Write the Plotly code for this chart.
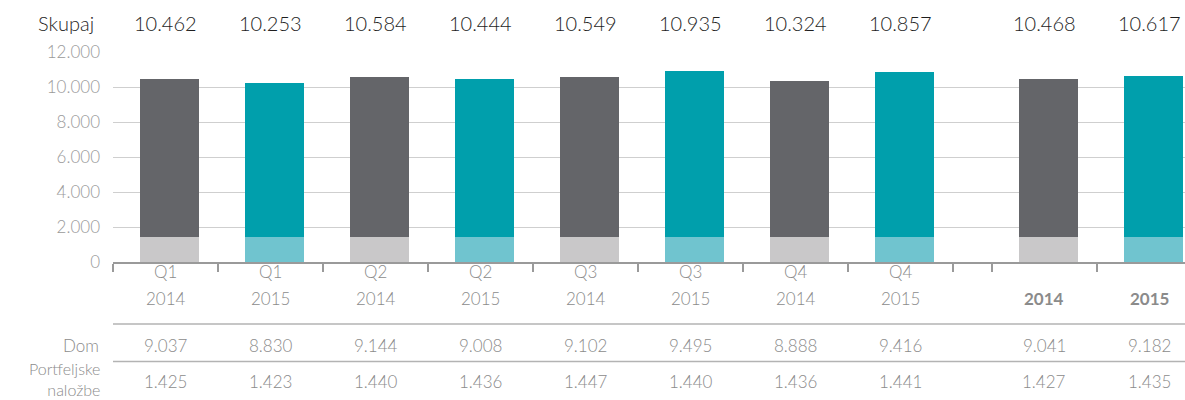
import plotly.graph_objects as go

# Quarterly and annual values (in thousands), Slovenian number formatting
quarters = ["Q1", "Q1", "Q2", "Q2", "Q3", "Q3", "Q4", "Q4", "", ""]
years = ["2014", "2015", "2014", "2015", "2014", "2015", "2014", "2015", "2014", "2015"]
dom = [9037, 8830, 9144, 9008, 9102, 9495, 8888, 9416, 9041, 9182]
portfeljske = [1425, 1423, 1440, 1436, 1447, 1440, 1436, 1441, 1427, 1435]
y_ticks = [0, 2000, 4000, 6000, 8000, 10000, 12000]

row_labels = ["Dom", "Portfeljske<br>naložbe"]
total_label = "Skupaj"

# layout constants (pixels)
W, H = 1185, 400
L, T, B = 113, 52, 138
plot_h = H - T - B
gap = 0.37          # space between quarterly and annual groups
bar_shift = 0.04

n_q = 8
centers = [float(i) for i in range(n_q)] + [n_q + gap + i for i in range(2)]
totals = [d + p for d, p in zip(dom, portfeljske)]


def fmt(v):
    return f"{v:,}".replace(",", ".")


def py(pixel_y):
    """pixel row -> paper y"""
    return (H - B - pixel_y) / plot_h


dark = ["#646569" if y == "2014" else "#009fac" for y in years]
light = ["#c9c8c9" if y == "2014" else "#70c4cf" for y in years]

bar_x = [c + bar_shift for c in centers]

fig = go.Figure()
fig.add_trace(go.Bar(x=bar_x, y=portfeljske, marker_color=light, width=0.56,
                     marker_line_width=0, name="Portfeljske naložbe"))
fig.add_trace(go.Bar(x=bar_x, y=dom, marker_color=dark, width=0.56,
                     marker_line_width=0, name="Dom"))

gray_txt = "#8b8b8b"
black_txt = "#1e1e1e"
font_family = "Lato, Open Sans, Liberation Sans, sans-serif"
ann = []


def label(x, y, text, xref="x", xanchor="center", size=16, color=gray_txt, **kw):
    ann.append(dict(x=x, xref=xref, xanchor=xanchor, y=py(y), yref="paper",
                    yanchor="middle", text=text, showarrow=False,
                    font=dict(size=size, color=color, family=font_family, weight=300), **kw))


# total row
label(0, 23, total_label, xref="paper", xanchor="right", size=20, color=black_txt, xshift=-17)
for c, t in zip(centers, totals):
    label(c, 23, fmt(t), size=20, color=black_txt)

# category labels
for c, q, yr in zip(centers, quarters, years):
    if q:
        label(c, 271, q, size=17)
        label(c, 298, yr, size=17)
    else:
        label(c, 298, f"<b>{yr}</b>", size=17)

# table rows
label(0, 345, row_labels[0], xref="paper", xanchor="right", size=17, xshift=-12)
label(0, 379, row_labels[1], xref="paper", xanchor="right", size=16, xshift=-12,
      align="right", borderpad=0)
for c, d, p in zip(centers, dom, portfeljske):
    label(c, 345, fmt(d), size=17)
    label(c, 381, fmt(p), size=17)

shapes = []
for yy in (324, 361.5):
    shapes.append(dict(type="line", xref="paper", yref="paper", x0=0, x1=1.05,
                       y0=py(yy), y1=py(yy), line=dict(color="#b3b3b3", width=1.5)))

boundaries = [c - 0.5 for c in centers[:n_q]] + [centers[n_q - 1] + 0.5] + \
             [c - 0.5 for c in centers[n_q:]] + [centers[-1] + 0.5]

x_max = (W - L) / 105 - 0.5

fig.update_layout(
    width=W, height=H,
    margin=dict(l=L, r=0, t=T, b=B),
    plot_bgcolor="white", paper_bgcolor="white",
    barmode="stack", showlegend=False,
    separators=",.",
    font=dict(family=font_family, size=16, color=gray_txt),
    xaxis=dict(range=[-0.5, x_max], tickvals=boundaries, showticklabels=False,
               ticks="outside", ticklen=8, tickcolor="#9a9a9a", tickwidth=1.5,
               showline=True, linecolor="#9a9a9a", linewidth=1.5, showgrid=False,
               zeroline=False, fixedrange=True),
    yaxis=dict(range=[0, 12000], tickvals=y_ticks, tickformat=",d",
               showgrid=True, gridcolor="#cfcfcf", gridwidth=1.2, zeroline=False,
               ticks="", ticklabelstandoff=12,
               tickfont=dict(size=17, color="#9a9a9a", family=font_family, weight=300),
               fixedrange=True),
    annotations=ann,
    shapes=shapes,
)

fig.write_html("out.html")
